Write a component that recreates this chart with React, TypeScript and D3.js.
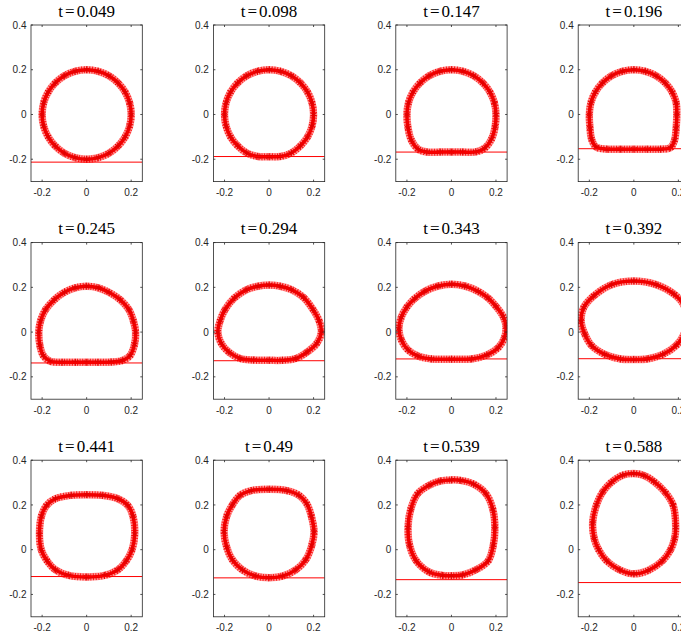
import React from 'react';
import * as d3 from 'd3';

// Snapshot times shown in each panel title
const times = ['0.049', '0.098', '0.147', '0.196', '0.245', '0.294', '0.343', '0.392', '0.441', '0.49', '0.539', '0.588'];

// Height of the wall (red horizontal line) at each snapshot
const wallLevels = [-0.213, -0.188, -0.168, -0.153, -0.138, -0.128, -0.12, -0.119, -0.12, -0.126, -0.134, -0.147];

// Interface points of the drop at each snapshot (x, y)
const shape049: [number, number][] = [
  [0.2, 0], [0.193, 0.052], [0.173, 0.1], [0.141, 0.141], [0.1, 0.173], [0.052, 0.193], [0, 0.2],
  [-0.052, 0.193], [-0.1, 0.173], [-0.141, 0.141], [-0.173, 0.1], [-0.193, 0.052], [-0.2, 0],
  [-0.193, -0.052], [-0.173, -0.1], [-0.141, -0.141], [-0.1, -0.173], [-0.052, -0.193], [0, -0.2],
  [0.052, -0.193], [0.1, -0.173], [0.141, -0.141], [0.173, -0.1], [0.193, -0.052],
];
const shape098: [number, number][] = [
  [0.2, 0], [0.193, 0.052], [0.173, 0.1], [0.141, 0.141], [0.1, 0.173], [0.052, 0.193], [0, 0.2],
  [-0.052, 0.193], [-0.1, 0.173], [-0.141, 0.141], [-0.173, 0.1], [-0.193, 0.052], [-0.2, 0],
  [-0.193, -0.052], [-0.173, -0.1], [-0.141, -0.14], [-0.1, -0.172], [-0.05, -0.188], [0, -0.189],
  [0.05, -0.188], [0.1, -0.172], [0.141, -0.14], [0.173, -0.1], [0.193, -0.052],
];
const shape147: [number, number][] = [
  [0.2, 0], [0.193, 0.052], [0.173, 0.1], [0.141, 0.141], [0.1, 0.173], [0.052, 0.193], [0, 0.2],
  [-0.052, 0.193], [-0.1, 0.173], [-0.141, 0.141], [-0.173, 0.1], [-0.193, 0.052], [-0.2, 0],
  [-0.195, -0.06], [-0.18, -0.115], [-0.15, -0.155], [-0.11, -0.168], [-0.05, -0.168], [0, -0.168],
  [0.05, -0.168], [0.11, -0.167], [0.15, -0.15], [0.18, -0.11], [0.196, -0.055],
];
const shape196: [number, number][] = [
  [0.193, 0], [0.19, 0.052], [0.172, 0.1], [0.141, 0.141], [0.1, 0.173], [0.052, 0.193], [0, 0.2],
  [-0.052, 0.193], [-0.1, 0.173], [-0.141, 0.141], [-0.173, 0.1], [-0.193, 0.052], [-0.2, 0],
  [-0.197, -0.06], [-0.19, -0.11], [-0.17, -0.145], [-0.12, -0.155], [-0.06, -0.155], [0, -0.155],
  [0.06, -0.155], [0.12, -0.155], [0.165, -0.148], [0.183, -0.115], [0.19, -0.06],
];
const shape245: [number, number][] = [
  [0.22, 0], [0.21, 0.05], [0.19, 0.1], [0.15, 0.145], [0.1, 0.178], [0.052, 0.198], [0, 0.205],
  [-0.052, 0.198], [-0.1, 0.178], [-0.145, 0.145], [-0.185, 0.1], [-0.207, 0.05], [-0.215, 0],
  [-0.21, -0.06], [-0.195, -0.105], [-0.165, -0.13], [-0.11, -0.135], [-0.05, -0.135], [0, -0.135],
  [0.05, -0.135], [0.11, -0.134], [0.16, -0.127], [0.195, -0.105], [0.215, -0.055],
];
const shape294: [number, number][] = [
  [0.235, 0], [0.225, 0.05], [0.198, 0.1], [0.155, 0.155], [0.1, 0.19], [0.05, 0.205], [0, 0.21],
  [-0.05, 0.205], [-0.1, 0.19], [-0.155, 0.153], [-0.198, 0.1], [-0.22, 0.05], [-0.23, 0],
  [-0.215, -0.05], [-0.18, -0.09], [-0.13, -0.118], [-0.07, -0.125], [0, -0.126], [0.06, -0.126],
  [0.12, -0.118], [0.17, -0.09], [0.215, -0.05],
];
const shape343: [number, number][] = [
  [0.245, 0.025], [0.232, 0.07], [0.2, 0.115], [0.165, 0.152], [0.12, 0.182], [0.06, 0.206], [0, 0.214],
  [-0.06, 0.206], [-0.12, 0.182], [-0.165, 0.15], [-0.2, 0.112], [-0.226, 0.065], [-0.236, 0.015],
  [-0.225, -0.035], [-0.195, -0.08], [-0.15, -0.107], [-0.09, -0.12], [0, -0.121], [0.09, -0.12],
  [0.16, -0.102], [0.21, -0.07], [0.238, -0.025],
];
const shape392: [number, number][] = [
  [0.24, 0.055], [0.225, 0.12], [0.18, 0.17], [0.1, 0.212], [0, 0.228], [-0.1, 0.212], [-0.18, 0.162],
  [-0.225, 0.11], [-0.237, 0.05], [-0.22, -0.01], [-0.19, -0.06], [-0.13, -0.1], [-0.06, -0.12],
  [0, -0.122], [0.06, -0.12], [0.13, -0.1], [0.19, -0.06], [0.225, -0.01],
];
const shape441: [number, number][] = [
  [0.216, 0.07], [0.208, 0.15], [0.185, 0.198], [0.14, 0.228], [0.07, 0.243], [0, 0.246], [-0.07, 0.243],
  [-0.14, 0.228], [-0.18, 0.198], [-0.203, 0.15], [-0.212, 0.07], [-0.204, 0], [-0.178, -0.05],
  [-0.14, -0.09], [-0.08, -0.115], [0, -0.122], [0.08, -0.115], [0.14, -0.09], [0.178, -0.05], [0.204, 0],
];
const shape490: [number, number][] = [
  [0.202, 0.08], [0.19, 0.15], [0.17, 0.205], [0.135, 0.243], [0.08, 0.264], [0, 0.27], [-0.08, 0.264],
  [-0.13, 0.243], [-0.165, 0.2], [-0.19, 0.15], [-0.202, 0.08], [-0.19, 0.01], [-0.165, -0.045],
  [-0.12, -0.09], [-0.06, -0.118], [0, -0.125], [0.06, -0.118], [0.12, -0.09], [0.165, -0.045], [0.192, 0.02],
];
const shape539: [number, number][] = [
  [0.195, 0.1], [0.186, 0.18], [0.155, 0.25], [0.1, 0.293], [0.04, 0.31], [0, 0.312], [-0.05, 0.307],
  [-0.1, 0.288], [-0.152, 0.25], [-0.183, 0.18], [-0.195, 0.1], [-0.188, 0.02], [-0.158, -0.05],
  [-0.1, -0.1], [-0.04, -0.115], [0, -0.117], [0.05, -0.113], [0.11, -0.09], [0.165, -0.05], [0.188, 0.02],
];
const shape588: [number, number][] = [
  [0.188, 0.1], [0.176, 0.2], [0.142, 0.255], [0.09, 0.305], [0.045, 0.332], [0, 0.34], [-0.05, 0.333],
  [-0.1, 0.302], [-0.14, 0.258], [-0.168, 0.2], [-0.185, 0.12], [-0.178, 0.05], [-0.158, 0], [-0.122, -0.05],
  [-0.064, -0.09], [0, -0.108], [0.064, -0.093], [0.128, -0.05], [0.165, 0], [0.183, 0.05],
];

const shapes = [shape049, shape098, shape147, shape196, shape245, shape294, shape343, shape392, shape441, shape490, shape539, shape588];

const xTicks = [-0.2, 0, 0.2];
const yTicks = [-0.2, 0, 0.2, 0.4];
const xDomain: [number, number] = [-0.25, 0.25];
const yDomain: [number, number] = [-0.3, 0.4];

const W = 681;
const H = 632;
const AX_W = 111.3;
const AX_H = 156.6;
const COL_X0 = 31;
const COL_STEP = 182.4;
const ROW_Y0 = 25;
const ROW_STEP = 217.6;
const AX_COLOR = '#262626';
const TICK_LEN = 2;

const asterisk = d3.symbol(d3.symbolAsterisk, 34)() as string;

function Panel({ idx }: { idx: number }) {
  const col = idx % 4;
  const row = Math.floor(idx / 4);
  const left = COL_X0 + col * COL_STEP;
  const top = ROW_Y0 + row * ROW_STEP;
  const x = d3.scaleLinear().domain(xDomain).range([0, AX_W]);
  const y = d3.scaleLinear().domain(yDomain).range([AX_H, 0]);
  const pts = shapes[idx];
  const line = d3
    .line<[number, number]>()
    .x((d) => x(d[0]))
    .y((d) => y(d[1]))
    .curve(d3.curveCatmullRomClosed.alpha(0.5));
  const d = line(pts) as string;
  const clipId = `clip-${idx}`;
  const wy = y(wallLevels[idx]);
  return (
    <g transform={`translate(${left},${top})`}>
      <defs>
        <clipPath id={clipId}>
          <rect x={0} y={0} width={AX_W} height={AX_H} />
        </clipPath>
      </defs>
      <rect x={0} y={0} width={AX_W} height={AX_H} fill="#fff" />
      <g clipPath={`url(#${clipId})`}>
        <path d={d} fill="none" stroke="#ff5050" strokeOpacity={0.6} strokeWidth={7.5} />
        <path d={d} fill="none" stroke="#ff1a1a" strokeWidth={7} strokeDasharray="1 1.6" />
        <path d={d} fill="none" stroke="#f00000" strokeWidth={3.5} />
        {pts.map((p, i) => (
          <path
            key={i}
            d={asterisk}
            transform={`translate(${x(p[0])},${y(p[1])})`}
            fill="none"
            stroke="#e00000"
            strokeWidth={0.9}
          />
        ))}
        <line x1={0} x2={AX_W} y1={wy} y2={wy} stroke="#ff0000" strokeWidth={1} />
      </g>
      {/* axes box */}
      <rect x={0} y={0} width={AX_W} height={AX_H} fill="none" stroke={AX_COLOR} strokeWidth={0.8} />
      {xTicks.map((t) => (
        <g key={`xt${t}`}>
          <line x1={x(t)} x2={x(t)} y1={AX_H} y2={AX_H - TICK_LEN} stroke={AX_COLOR} strokeWidth={0.8} />
          <line x1={x(t)} x2={x(t)} y1={0} y2={TICK_LEN} stroke={AX_COLOR} strokeWidth={0.8} />
          <text
            x={x(t)}
            y={AX_H + 14.5}
            textAnchor="middle"
            fontFamily="'Liberation Sans', Arial, sans-serif"
            fontSize={10}
            fill={AX_COLOR}
          >
            {String(t)}
          </text>
        </g>
      ))}
      {yTicks.map((t) => (
        <g key={`yt${t}`}>
          <line x1={0} x2={TICK_LEN} y1={y(t)} y2={y(t)} stroke={AX_COLOR} strokeWidth={0.8} />
          <line x1={AX_W} x2={AX_W - TICK_LEN} y1={y(t)} y2={y(t)} stroke={AX_COLOR} strokeWidth={0.8} />
          <text
            x={-4.5}
            y={y(t) + 3.6}
            textAnchor="end"
            fontFamily="'Liberation Sans', Arial, sans-serif"
            fontSize={10}
            fill={AX_COLOR}
          >
            {String(t)}
          </text>
        </g>
      ))}
      <text
        x={AX_W / 2}
        y={-8.5}
        textAnchor="middle"
        fontFamily="'Liberation Serif', 'DejaVu Serif', serif"
        fontSize={17}
        fill="#000"
      >
        <tspan>t</tspan>
        <tspan dx={2}>=</tspan>
        <tspan dx={2}>{times[idx]}</tspan>
      </text>
    </g>
  );
}

export default function App() {
  return (
    <svg
      width={W}
      height={H}
      viewBox={`0 0 ${W} ${H}`}
      style={{ position: 'absolute', left: 0, top: 0, background: '#fff' }}
    >
      <rect x={0} y={0} width={W} height={H} fill="#fff" />
      {times.map((_, i) => (
        <Panel key={i} idx={i} />
      ))}
    </svg>
  );
}
